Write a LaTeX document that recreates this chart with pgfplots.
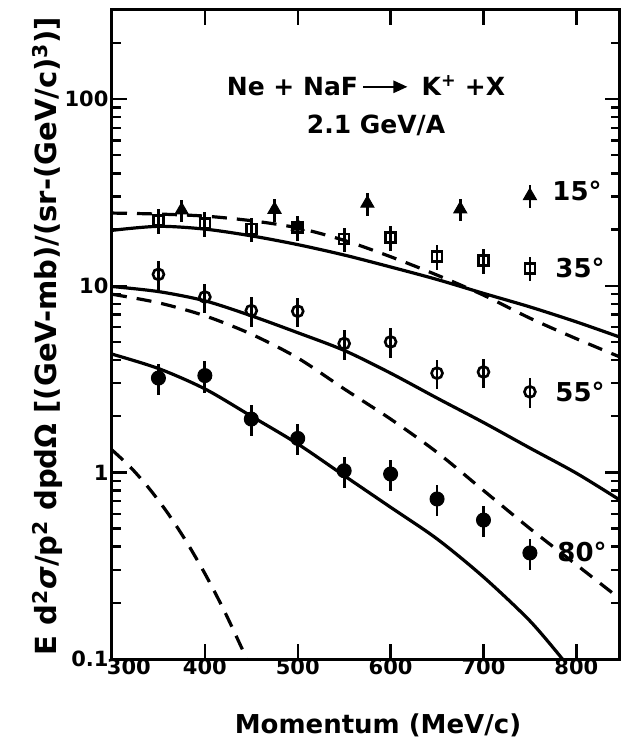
\documentclass[border=0pt]{standalone}
\usepackage{pgfplots}
\pgfplotsset{compat=1.18}
\usepackage{graphicx}
\usepackage{fontspec}
\setmainfont{DejaVu Sans}
\usetikzlibrary{arrows.meta}

\begin{document}
\begin{tikzpicture}
\path[use as bounding box] (-112pt,-86pt) rectangle (513pt,659pt);
\begin{axis}[
  at={(0pt,0pt)}, anchor=south west,
  scale only axis, width=508pt, height=649pt,
  xmin=300, xmax=847, ymode=log, ymin=0.1, ymax=300,
  enlargelimits=false,
  axis line style={line width=3pt},
  every tick/.style={black, line width=2.4pt},
  tick align=inside,
  major tick length=15pt, minor tick length=9pt,
  xtick={300,400,500,600,700,800},
  xticklabels={\makebox[0pt][l]{\hspace*{-5pt}300},400,500,600,700,800},
  ytick={0.1,1,10,100}, yticklabels={0.1,1,10,100},
  minor ytick={0.2,0.3,0.4,0.5,0.6,0.7,0.8,0.9,2,3,4,5,6,7,8,9,20,30,40,50,60,70,80,90,200},
  tick label style={font=\bfseries\fontsize{21}{24}\selectfont},
  xticklabel style={yshift=4pt},
  curve/.style={line width=3.2pt, smooth, no markers},
  dsh/.style={dash pattern=on 15pt off 10pt},
  errs/.style={error bars/.cd, y dir=both, y explicit relative,
     error bar style={line width=2.8pt}, error mark=none},
]
% theory curves
\addplot[curve] coordinates {(300,19.8) (350,20.8) (400,20.1) (450,18.5) (500,16.6) (550,14.6) (600,12.6) (650,10.8) (700,9.1) (750,7.7) (800,6.4) (847,5.3)};
\addplot[curve,dsh] coordinates {(300,24.5) (350,24.2) (400,23.6) (450,22.3) (500,20.4) (550,17.5) (600,14.3) (650,11.4) (700,8.9) (750,6.7) (800,5.2) (847,4.15)};
\addplot[curve] coordinates {(300,9.9) (350,9.3) (400,8.3) (450,6.9) (500,5.6) (550,4.5) (600,3.4) (650,2.5) (700,1.85) (750,1.35) (800,0.99) (847,0.71)};
\addplot[curve,dsh] coordinates {(300,9.0) (350,8.1) (400,6.9) (450,5.5) (500,4.1) (550,2.8) (600,1.93) (650,1.28) (700,0.80) (750,0.50) (800,0.32) (847,0.21)};
\addplot[curve] coordinates {(300,4.3) (350,3.6) (400,2.8) (450,2.0) (500,1.42) (550,0.96) (600,0.65) (650,0.44) (700,0.275) (750,0.16) (785,0.1)};
\addplot[curve,dsh] coordinates {(300,1.318) (320,1.064) (340,0.820) (360,0.605) (380,0.426) (400,0.287) (420,0.185) (440,0.1137) (446,0.0974)};
% data: 15 deg
\addplot[only marks, mark=triangle*, mark size=7.5pt, mark options={fill=black, line width=1pt}, errs] coordinates {
 (375,25.4) +- (0,0.14) (475,25.6) +- (0,0.14) (500,20.8) +- (0,0.12) (575,27.6) +- (0,0.14) (675,25.7) +- (0,0.14) (750,30.3) +- (0,0.14)};
% 35 deg
\addplot[only marks, mark=square, mark size=5pt, mark options={fill=white, line width=2.6pt}, errs] coordinates {
 (350,22.4) +- (0,0.15) (400,21.5) +- (0,0.15) (450,20.1) +- (0,0.15) (500,20.5) +- (0,0.15) (550,17.8) +- (0,0.15) (600,18.1) +- (0,0.15) (650,14.3) +- (0,0.15) (700,13.6) +- (0,0.15) (750,12.4) +- (0,0.15)};
% 55 deg
\addplot[only marks, mark=o, mark size=5.5pt, mark options={fill=white, line width=2.6pt}, errs] coordinates {
 (350,11.5) +- (0,0.18) (400,8.7) +- (0,0.18) (450,7.35) +- (0,0.18) (500,7.3) +- (0,0.18) (550,4.9) +- (0,0.18) (600,5.0) +- (0,0.18) (650,3.4) +- (0,0.18) (700,3.45) +- (0,0.18) (750,2.7) +- (0,0.18)};
% 80 deg
\addplot[only marks, mark=*, mark size=7pt, mark options={fill=black, line width=1pt}, errs] coordinates {
 (350,3.2) +- (0,0.19) (400,3.3) +- (0,0.19) (450,1.93) +- (0,0.19) (500,1.52) +- (0,0.19) (550,1.02) +- (0,0.19) (600,0.98) +- (0,0.19) (650,0.72) +- (0,0.19) (700,0.555) +- (0,0.19) (750,0.37) +- (0,0.19)};
\end{axis}
% labels
\node[font=\bfseries\fontsize{25}{28}\selectfont] at (254pt,573pt) {Ne + NaF\,\tikz[baseline]{\draw[line width=2.6pt,-{Triangle[length=14pt,width=12pt]}] (0,0.36em) -- (44pt,0.36em);}\, K\textsuperscript{+} +X};
\node[font=\bfseries\fontsize{25}{28}\selectfont] at (264pt,534pt) {2.1 GeV/A};
\node[font=\bfseries\fontsize{26}{28}\selectfont] at (465pt,468pt) {15°};
\node[font=\bfseries\fontsize{26}{28}\selectfont] at (468pt,391pt) {35°};
\node[font=\bfseries\fontsize{26}{28}\selectfont] at (468pt,267pt) {55°};
\node[font=\bfseries\fontsize{26}{28}\selectfont] at (470pt,107pt) {80°};
\node[font=\bfseries\fontsize{26}{28}\selectfont, anchor=base] at (266pt,-74pt) {Momentum (MeV/c)};
\node[rotate=90, anchor=base, inner sep=0pt] at (-55pt,323pt) {\resizebox{638pt}{!}{\bfseries\fontsize{28}{30}\selectfont E d\textsuperscript{2}{\itshape σ}/p\textsuperscript{2} dpdΩ [(GeV-mb)/(sr-(GeV/c)\textsuperscript{3})]}};
\end{tikzpicture}
\end{document}
